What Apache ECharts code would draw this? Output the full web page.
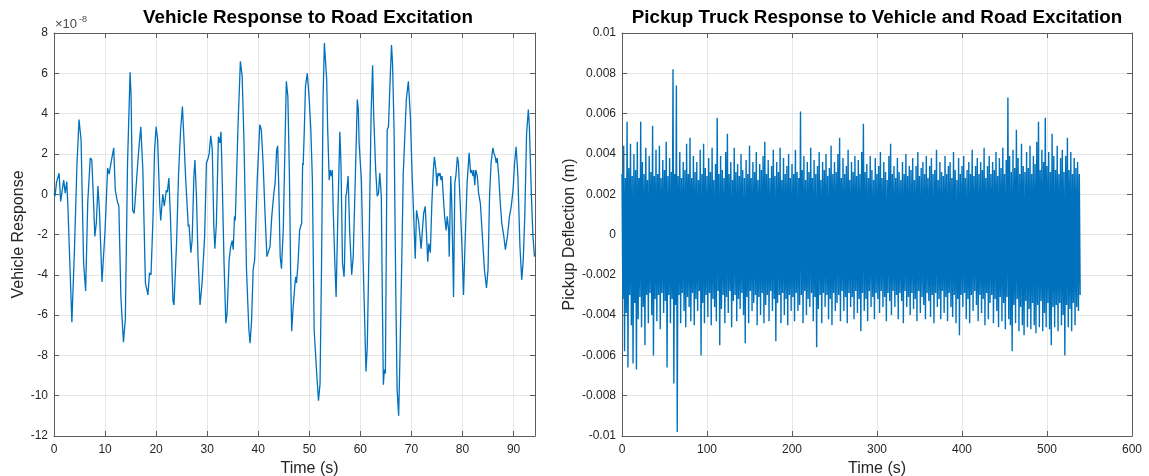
<!DOCTYPE html>
<html>
<head>
<meta charset="utf-8">
<script src="https://cdn.jsdelivr.net/npm/echarts@6/dist/echarts.min.js"></script>
<style>
  html, body { margin: 0; padding: 0; background: #ffffff; }
  #chart { width: 1149px; height: 476px; }
</style>
</head>
<body>
<div id="chart"></div>
<script>
// ---- Vehicle response (values in units of 1e-8) ----
const vehicleTime = [
  0.0, 0.2, 0.5, 1.0, 1.3, 1.9, 2.2, 2.5, 2.7, 3.5, 4.0, 4.5, 4.9, 5.3, 5.8, 6.2, 6.6, 7.1, 7.4, 7.7,
  8.0, 8.3, 8.6, 8.9, 9.4, 10.0, 10.5, 10.8, 11.2, 11.7, 12.0, 12.4, 12.7, 13.1, 13.6, 13.97, 14.4, 14.9, 15.1, 15.4,
  15.7, 15.9, 16.4, 16.7, 17.0, 17.4, 17.9, 18.4, 18.7, 19.0, 19.4, 19.7, 20.0, 20.3, 20.7, 20.9, 21.3, 21.6, 22.0, 22.2,
  22.5, 22.8, 23.3, 23.5, 24.0, 24.4, 24.8, 25.15, 25.4, 25.8, 26.3, 26.45, 26.8, 27.05, 27.4, 27.6, 27.9, 28.2, 28.6, 29.0,
  29.5, 29.85, 30.2, 30.4, 30.7, 31.0, 31.3, 31.5, 31.8, 32.2, 32.5, 32.7, 32.9, 33.3, 33.65, 33.9, 34.3, 34.6, 34.9, 35.1,
  35.35, 35.5, 36.05, 36.5, 36.85, 37.2, 37.7, 38.15, 38.4, 38.7, 39.0, 39.3, 39.8, 40.3, 40.6, 40.95, 41.35, 41.7, 42.0, 42.3,
  42.65, 43.05, 43.3, 43.6, 43.8, 44.0, 44.3, 44.55, 44.9, 45.3, 45.5, 45.8, 46.1, 46.35, 46.55, 46.8, 47.2, 47.35, 47.5, 47.8,
  48.1, 48.3, 48.5, 48.7, 48.8, 49.0, 49.25, 49.6, 49.95, 50.3, 50.6, 50.95, 51.4, 51.8, 52.1, 52.4, 52.7, 52.95, 53.2, 53.4,
  53.6, 53.9, 54.1, 54.3, 54.5, 54.7, 55.0, 55.25, 55.6, 55.98, 56.2, 56.5, 56.8, 56.9, 57.15, 57.3, 57.6, 57.9, 58.3, 58.6,
  59.0, 59.4, 59.6, 59.75, 60.2, 60.55, 61.1, 61.35, 61.7, 62.1, 62.4, 62.6, 63.0, 63.3, 63.55, 63.8, 64.1, 64.3, 64.5, 64.7,
  64.9, 65.25, 65.5, 65.8, 66.1, 66.3, 66.6, 66.95, 67.2, 67.5, 67.7, 68.1, 68.4, 68.7, 69.0, 69.4, 69.8, 70.1, 70.35, 70.75,
  71.0, 71.2, 71.4, 71.5, 71.9, 72.2, 72.4, 72.7, 72.95, 73.2, 73.4, 73.7, 74.0, 74.3, 74.5, 74.8, 75.0, 75.2, 75.4, 75.6,
  75.8, 76.0, 76.2, 76.5, 76.8, 77.0, 77.3, 77.4, 77.7, 77.9, 78.25, 78.5, 78.7, 79.0, 79.2, 79.55, 79.9, 80.2, 80.5, 80.9,
  81.3, 81.6, 81.8, 82.05, 82.2, 82.4, 82.6, 82.9, 83.15, 83.5, 83.9, 84.3, 84.7, 85.0, 85.3, 85.6, 85.95, 86.15, 86.4, 86.6,
  86.8, 87.1, 87.4, 87.7, 88.1, 88.4, 88.8, 89.2, 89.55, 89.9, 90.2, 90.5, 90.85, 91.25, 91.6, 91.9, 92.2, 92.55, 92.9, 93.1,
  93.5, 93.8, 94.1
];
const vehicleResponse = [
  0.05, -0.1, 0.6, 1.04, -0.36, 0.7, 0.05, 0.63, -0.45, -6.35, -2.8, 1.5, 3.7, 2.7, -3.4, -4.8, -0.45, 1.8, 1.7, -0.1,
  -2.1, -1.4, 0.4, -0.8, -4.35, -1.8, 1.3, 1.0, 1.6, 2.3, 0.2, -0.35, -0.6, -5.1, -7.35, -6.2, 1.5, 6.05, 4.85, -0.8,
  -0.95, -0.3, 1.55, 2.5, 3.35, 1.2, -4.4, -5.0, -3.9, -4.0, -1.1, 2.2, 3.35, 2.7, -0.45, -1.3, 0.0, -0.6, 0.2, 0.1,
  0.8, -1.1, -5.3, -5.5, -2.45, 1.05, 3.2, 4.35, 3.0, 0.7, -1.6, -1.5, -2.9, -2.3, 0.9, 1.7, -0.1, -3.1, -5.5, -4.4,
  -2.1, 1.55, 1.8, 2.05, 2.9, 2.2, -1.6, -2.7, -1.45, 2.85, 2.55, 3.1, 1.2, -3.4, -6.4, -5.9, -3.25, -2.6, -2.3, -2.75,
  -1.1, -1.3, 3.5, 6.6, 5.85, 2.7, -3.75, -6.65, -7.4, -6.25, -3.75, -3.25, 0.7, 3.45, 3.2, 1.55, -1.1, -3.1, -2.85, -2.6,
  -1.1, 0.05, 0.55, 2.2, 2.4, 0.55, -3.1, -3.7, -1.75, 3.2, 5.6, 4.85, 1.0, -4.0, -6.8, -5.75, -4.4, -4.1, -4.4, -3.4,
  -1.8, -1.6, -1.45, 1.55, 1.45, 3.0, 5.35, 6.0, 4.85, 3.2, 0.7, -6.75, -8.7, -10.25, -9.4, -3.4, 4.85, 7.5, 6.5, 5.7,
  3.2, 0.7, 1.2, 0.9, 1.2, -0.95, -3.4, -5.1, -0.95, 3.1, 1.55, -3.4, -4.1, -3.4, -0.1, 0.05, 0.9, -1.8, -4.0, -3.1,
  0.7, 4.7, 4.2, 2.55, 0.7, -3.4, -8.8, -7.6, -2.6, 4.0, 6.4, 4.0, 1.2, -0.1, 0.05, 1.05, -0.1, -5.1, -9.45, -8.7,
  -8.9, 3.2, 3.35, 5.5, 7.4, 6.5, 3.2, -5.1, -9.7, -11.0, -8.7, -3.4, 1.05, 2.85, 4.7, 5.6, 3.85, 1.2, -0.45, -3.2,
  -0.8, -1.1, -1.35, -1.6, -2.7, -1.6, -0.95, -0.6, -1.95, -3.35, -2.45, -2.9, -0.45, 1.2, 1.85, 1.2, 0.4, 1.05, 0.9, 1.05,
  0.7, 0.9, 0.05, -1.1, -1.8, -1.1, -1.8, -3.1, 0.9, -0.45, -5.1, 0.55, 0.9, 1.85, 1.55, -0.45, -2.6, -5.0, -2.45, 0.55,
  2.05, 1.05, 1.2, 0.9, 1.2, 0.45, 1.2, 0.9, 0.05, -0.45, -2.1, -3.75, -4.65, -3.75, -0.1, 1.55, 2.3, 2.05, 1.85, 1.55,
  1.8, 0.9, -0.45, -1.45, -2.1, -2.75, -2.1, -1.1, -0.6, 0.2, 1.55, 2.35, 0.9, -2.6, -4.25, -3.25, -1.1, 3.0, 4.2, 3.35,
  -0.1, -2.1, -3.1
];

// ---- Pickup deflection: peak values per 2 s window, in mm ----
const pickupStep = 2;
const pickupHighMM = [
  3.0, 4.4, 2.8, 5.6, 3.3, 4.5, 2.9, 4.0, 3.2, 4.6,
  2.8, 5.6, 3.6, 3.0, 4.3, 2.7, 3.9, 3.1, 5.4, 2.9,
  4.2, 3.0, 4.4, 2.8, 3.7, 3.2, 4.6, 2.9, 3.8, 3.1,
  8.2, 3.0, 7.4, 2.9, 4.1, 2.8, 3.6, 3.2, 4.5, 3.0,
  4.8, 2.8, 3.9, 3.1, 3.6, 2.7, 4.2, 3.0, 4.5, 3.3,
  2.9, 3.8, 3.1, 4.3, 2.7, 3.5, 5.8, 3.0, 3.9, 3.2,
  2.8, 4.1, 5.0, 3.0, 3.6, 2.7, 4.3, 3.1, 3.5, 2.9,
  4.0, 3.2, 2.8, 3.7, 3.0, 4.4, 2.8, 3.6, 3.1, 4.1,
  2.7, 3.5, 3.2, 3.9, 4.6, 3.0, 3.7, 2.8, 3.4, 4.2,
  2.9, 3.6, 3.1, 4.3, 2.7, 3.8, 3.0, 3.4, 4.0, 2.8,
  3.5, 3.0, 4.2, 3.1, 2.8, 6.1, 3.2, 3.9, 2.7, 3.6,
  3.1, 4.3, 2.8, 3.7, 3.0, 3.4, 4.1, 2.7, 3.6, 3.2,
  4.0, 2.9, 3.3, 4.4, 3.0, 3.6, 3.1, 4.0, 4.8, 2.8,
  3.8, 3.0, 3.4, 4.2, 2.7, 3.6, 3.1, 3.9, 2.9, 3.7,
  3.0, 4.1, 5.5, 3.1, 3.5, 2.8, 3.9, 3.2, 2.7, 3.8,
  3.0, 3.4, 4.1, 2.8, 3.6, 3.1, 2.7, 3.9, 4.5, 3.0,
  3.4, 2.8, 3.8, 3.1, 2.7, 3.6, 3.0, 4.0, 2.9, 3.4,
  3.2, 3.8, 2.7, 3.4, 4.1, 2.9, 3.3, 3.6, 3.0, 3.9,
  2.8, 3.4, 3.8, 3.0, 3.2, 4.2, 2.7, 3.6, 3.1, 2.9,
  3.9, 3.0, 3.4, 3.6, 2.8, 4.1, 3.2, 2.7, 3.8, 3.0,
  3.4, 3.9, 2.8, 3.2, 3.6, 3.0, 4.2, 2.9, 3.4, 3.8,
  3.0, 3.6, 3.2, 4.3, 2.8, 3.4, 3.9, 3.0, 3.6, 3.2,
  4.1, 2.9, 3.8, 3.3, 4.3, 3.0, 3.7, 6.8, 3.9, 3.1,
  4.2, 3.3, 5.2, 3.8, 3.0, 4.5, 3.4, 3.1, 4.1, 3.3,
  4.4, 3.0, 3.9, 3.5, 4.6, 5.6, 3.2, 4.2, 3.6, 5.8,
  3.4, 4.1, 3.1, 5.0, 3.9, 3.2, 4.4, 3.0, 3.8, 4.2,
  3.1, 3.9, 4.8, 3.2, 4.1, 3.0, 3.8, 3.3, 3.6, 3.0
];
const pickupLowMM = [
  -3.2, -5.8, -3.9, -6.6, -3.0, -4.5, -6.4, -3.4, -6.7, -4.2,
  -3.1, -4.6, -3.6, -5.5, -3.0, -4.4, -2.9, -4.0, -6.0, -3.2,
  -4.3, -3.0, -4.7, -2.9, -3.9, -3.3, -6.6, -3.0, -4.4, -3.2,
  -7.4, -3.5, -9.8, -3.0, -4.4, -2.9, -3.8, -4.6, -3.1, -3.6,
  -4.3, -2.9, -4.5, -3.2, -3.8, -2.8, -6.0, -3.4, -4.4, -3.0,
  -4.1, -2.9, -4.5, -3.2, -3.6, -4.3, -2.8, -5.5, -3.7, -3.0,
  -4.4, -3.1, -3.9, -2.8, -4.6, -3.3, -3.0, -4.3, -3.2, -3.7,
  -2.9, -4.0, -5.4, -3.1, -4.4, -2.8, -3.8, -3.4, -3.0, -4.5,
  -3.1, -4.0, -2.9, -4.4, -3.5, -3.0, -4.3, -2.8, -3.8, -3.2,
  -5.3, -3.4, -3.0, -4.4, -2.9, -4.0, -3.2, -4.5, -3.0, -3.8,
  -3.1, -4.3, -2.9, -3.8, -3.5, -3.0, -4.4, -2.8, -4.0, -3.2,
  -3.6, -2.9, -4.3, -3.1, -5.6, -3.7, -3.0, -4.4, -2.9, -3.6,
  -3.0, -4.2, -3.2, -4.5, -2.9, -3.8, -3.4, -3.0, -4.3, -2.8,
  -3.8, -3.1, -4.4, -2.9, -3.6, -3.1, -4.2, -2.8, -3.9, -3.2,
  -4.8, -2.9, -3.8, -3.2, -4.3, -2.8, -3.6, -3.1, -4.2, -2.9,
  -3.2, -3.9, -2.8, -3.6, -3.1, -4.3, -2.9, -3.3, -4.0, -2.8,
  -3.6, -3.0, -4.2, -2.9, -3.3, -4.4, -2.8, -3.6, -3.1, -4.0,
  -2.9, -3.7, -3.2, -4.3, -2.8, -3.9, -3.1, -3.5, -4.2, -2.9,
  -3.3, -4.1, -3.0, -4.4, -2.9, -3.6, -3.2, -4.2, -2.8, -3.9,
  -3.1, -4.3, -2.9, -3.6, -4.1, -3.0, -4.4, -3.2, -5.0, -3.0,
  -3.6, -2.9, -4.2, -3.2, -4.4, -3.0, -3.8, -2.8, -3.5, -4.3,
  -3.0, -3.9, -3.2, -4.5, -2.9, -4.2, -3.4, -3.0, -4.4, -3.2,
  -3.8, -4.6, -3.1, -4.3, -3.4, -4.7, -3.1, -4.2, -4.5, -5.8,
  -3.5, -4.4, -3.2, -4.8, -3.6, -4.5, -5.0, -3.3, -4.6, -3.7,
  -4.7, -3.4, -4.5, -4.9, -3.5, -4.6, -3.3, -4.8, -3.9, -4.6,
  -3.4, -4.7, -5.5, -3.6, -4.6, -3.5, -4.8, -3.4, -4.5, -4.0,
  -6.0, -3.5, -4.6, -3.7, -4.8, -3.4, -4.5, -3.6, -3.8, -3.0
];

// ---- Axis ranges ----
const vehicleX = { min: 0, max: 94.2, interval: 10 };
const vehicleY = { min: -12, max: 8, interval: 2 };
const pickupX = { min: 0, max: 600, interval: 100 };
const pickupY = { min: -0.01, max: 0.01, interval: 0.002 };

const titles = ['Vehicle Response to Road Excitation', 'Pickup Truck Response to Vehicle and Road Excitation'];
const xNames = ['Time (s)', 'Time (s)'];
const yNames = ['Vehicle Response', 'Pickup Deflection (m)'];
const exponentText = ['\u00d710', '-8'];

const FONT = '"Liberation Sans", Arial, Helvetica, sans-serif';
const AXIS_COLOR = '#5c5c5c';
const TEXT_COLOR = '#262626';
const GRID_COLOR = '#e6e6e6';
const LINE_COLOR = '#0072BD';

const grids = [
  { left: 54, top: 33, width: 481, height: 403, containLabel: false, outerBoundsMode: 'none' },
  { left: 622, top: 33, width: 510, height: 403, containLabel: false, outerBoundsMode: 'none' }
];

function axisBase(range, gridIndex, position, opts) {
  const main = position === 'bottom' || position === 'left';
  const horizontal = position === 'bottom' || position === 'top';
  return Object.assign({
    type: 'value',
    gridIndex: gridIndex,
    position: position,
    min: range.min,
    max: range.max,
    interval: range.interval,
    axisLine: { show: true, onZero: false, lineStyle: { color: AXIS_COLOR, width: 1 } },
    axisTick: { show: true, inside: true, length: 5, lineStyle: { color: AXIS_COLOR, width: 1 } },
    axisLabel: { show: main, color: TEXT_COLOR, fontFamily: FONT, fontSize: 12, margin: horizontal ? 8 : 6 },
    splitLine: { show: main, lineStyle: { color: GRID_COLOR, width: 1 } },
    nameTextStyle: { color: TEXT_COLOR, fontFamily: FONT, fontSize: 16 },
    silent: true
  }, opts || {});
}

const decadeLabel = v => (Math.abs(v - Math.round(v)) < 1e-9 && Math.round(v) % 10 === 0 ? String(Math.round(v)) : '');
const vehicleYLabel = v => String(Math.round(v));
const pickupYLabel = v => (Math.abs(v) < 1e-12 ? '0' : String(+v.toFixed(3)));

const xAxes = [
  axisBase(vehicleX, 0, 'bottom', { name: xNames[0], nameLocation: 'middle', nameGap: 22 }),
  axisBase(vehicleX, 0, 'top'),
  axisBase(pickupX, 1, 'bottom', { name: xNames[1], nameLocation: 'middle', nameGap: 22 }),
  axisBase(pickupX, 1, 'top')
];
xAxes[0].axisLabel.formatter = decadeLabel;
xAxes[0].nameTextStyle = Object.assign({}, xAxes[0].nameTextStyle, { padding: [0, 0, 0, 30] });
xAxes[2].axisLabel.formatter = v => String(Math.round(v));

const yAxes = [
  axisBase(vehicleY, 0, 'left', { name: yNames[0], nameLocation: 'middle', nameGap: 27 }),
  axisBase(vehicleY, 0, 'right'),
  axisBase(pickupY, 1, 'left', { name: yNames[1], nameLocation: 'middle', nameGap: 43 }),
  axisBase(pickupY, 1, 'right')
];
yAxes[0].axisLabel.formatter = vehicleYLabel;
yAxes[2].axisLabel.formatter = pickupYLabel;

// Vehicle response trace
const vehicleData = vehicleTime.map((t, i) => [t, vehicleResponse[i]]);

// Pickup trace: alternate between the high and low peak of each window
const pickupData = [];
pickupHighMM.forEach((h, i) => {
  const t = i * pickupStep;
  pickupData.push([t, h / 1000]);
  pickupData.push([t + pickupStep / 2, pickupLowMM[i] / 1000]);
});

const titleStyle = { fontFamily: FONT, fontSize: 18.8, fontWeight: 'bold', color: '#000000' };

const chart = echarts.init(document.getElementById('chart'), null, { renderer: 'canvas' });
chart.setOption({
  animation: false,
  backgroundColor: '#ffffff',
  title: [
    { text: titles[0], left: 308, top: 8, textAlign: 'center', padding: 0, textStyle: titleStyle },
    { text: titles[1], left: 877, top: 8, textAlign: 'center', padding: 0, textStyle: titleStyle }
  ],
  grid: grids,
  xAxis: xAxes,
  yAxis: yAxes,
  graphic: [
    { type: 'text', left: 55, top: 18, silent: true,
      style: { text: exponentText[0], fill: '#4a4a4a', font: '13px ' + FONT } },
    { type: 'text', left: 79, top: 15, silent: true,
      style: { text: exponentText[1], fill: '#4a4a4a', font: '9px ' + FONT } }
  ],
  series: [
    {
      type: 'line', xAxisIndex: 0, yAxisIndex: 0, data: vehicleData,
      showSymbol: false, symbol: 'none', sampling: null, smooth: false,
      lineStyle: { color: LINE_COLOR, width: 1.3 }, clip: true, silent: true
    },
    {
      type: 'line', xAxisIndex: 2, yAxisIndex: 2, data: pickupData,
      showSymbol: false, symbol: 'none', sampling: null, smooth: false,
      lineStyle: { color: LINE_COLOR, width: 1.4 }, clip: true, silent: true
    }
  ]
});
</script>
</body>
</html>
